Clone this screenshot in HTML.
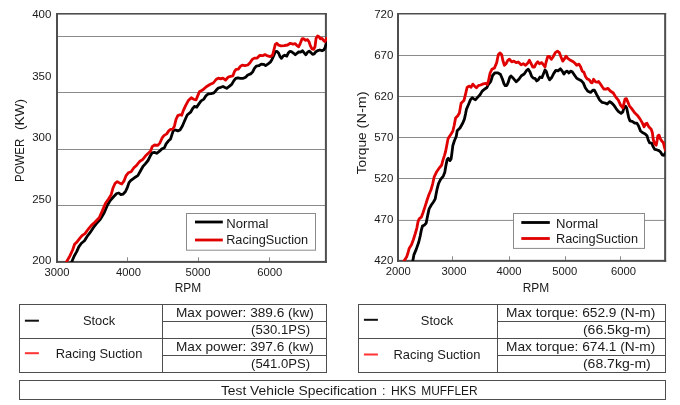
<!DOCTYPE html><html><head><meta charset="utf-8"><title>chart</title><style>html,body{margin:0;padding:0;background:#fff}svg{display:block;will-change:transform}text{font-family:"Liberation Sans",sans-serif;fill:#1a1a1a}</style></head><body>
<svg width="680" height="405" viewBox="0 0 680 405">
<rect width="680" height="405" fill="#fff"/>
<defs><clipPath id="cl"><rect x="56" y="13" width="271" height="249"/></clipPath><clipPath id="cr"><rect x="397" y="13" width="268.3" height="248"/></clipPath></defs>
<rect x="57" y="36" width="268.9" height="1" fill="#8a8a8a"/>
<rect x="57" y="92" width="268.9" height="1" fill="#8a8a8a"/>
<rect x="57" y="149" width="268.9" height="1" fill="#8a8a8a"/>
<rect x="57" y="205" width="268.9" height="1" fill="#8a8a8a"/>
<rect x="127" y="257.3" width="1" height="3.6" fill="#8a8a8a"/>
<rect x="198" y="257.3" width="1" height="3.6" fill="#8a8a8a"/>
<rect x="269" y="257.3" width="1" height="3.6" fill="#8a8a8a"/>
<rect x="56" y="13" width="2" height="249.9" fill="#4e4e4e"/>
<rect x="324.9" y="13" width="2" height="249.9" fill="#4e4e4e"/>
<rect x="56" y="13" width="270.9" height="1.6" fill="#4e4e4e"/>
<rect x="56" y="260.9" width="270.9" height="2" fill="#4e4e4e"/>
<g clip-path="url(#cl)" fill="none" stroke-linejoin="round" stroke-linecap="butt" stroke-width="2.8"><polyline points="70.9,263.8 72,261.2 74.1,256.2 76.7,251.6 78.8,246.9 81.4,243.3 84.5,240.7 87.1,236.5 90.2,232.4 93.3,227.7 96,224.1 100.5,219 104.2,212.7 107.4,205.2 110.2,200.5 113.8,196.5 116.7,193.5 118.8,193 120.9,194.6 123,194.2 125.5,191.5 127.4,187.3 129,182.6 130.9,180.3 134.4,177.8 137.8,175.6 140,171.7 142.8,166.7 145.3,163.8 148,160.5 150.2,156.1 152.2,152.8 154.4,152.4 156.7,153.3 158.9,151.7 161.7,149.1 164.4,147.8 166.1,143.9 168.3,141.1 170.6,138.9 172.2,133.9 173.3,130.6 175.6,130 177.8,130.9 180,130 182.4,126 184.3,121.5 187.2,115 190.6,112.2 192.8,108.3 194.4,106.4 196.7,107.2 198.9,103.9 201.1,100.9 203.9,99.1 206.1,95.6 208.3,93.9 211.1,93.6 213.9,92.8 216.1,90.3 218.3,88 220.8,87.3 223,86.5 225,87.5 226.7,88.3 228.9,86.7 231.7,84.4 233.9,80.6 235.8,78.3 237.8,77.8 240.6,78.3 243.3,78.3 245.6,77.2 247.8,75 250.6,73.9 252.8,71.7 254.4,68.3 256.3,66.1 258.8,65.7 261.3,64.1 263.5,64.3 265.6,65.6 268.1,63.9 270.3,62.2 272,59.4 273.7,55.6 275.3,51.7 277,51.4 278.7,53.3 280.1,56.7 281.4,58.3 283.1,56.1 284.8,55.2 286.8,56.1 288.1,53.3 289.8,51.4 291.4,51.7 293.7,53.3 295.3,54.8 297,53.3 298.7,51.9 300.3,52.2 302.6,50.8 304.2,52.8 305.9,54.8 307.6,52.2 309.2,51.1 310.9,52.6 312.6,54.4 314.2,53.9 315.9,51.7 317.9,50.6 319.8,50 322,50.8 323.7,50 325,47.8 326.1,43.9 327.5,40" stroke="#000"/><polyline points="65.8,263.2 66.9,261.2 70,255.7 72.6,250 74.6,244.3 77.2,241.7 80.3,237.6 82.4,235.3 85,233.6 88.1,229.3 91.2,225.6 94.8,222.2 99.2,217.8 102.3,210.9 105.5,203.3 108.5,199 111,195.1 112.9,188.3 115,183.5 117.2,181.6 119.4,182.9 121.8,184 123.9,181.2 126.1,175.6 128.3,172.8 131.1,171.7 133.9,167.8 136.7,165.2 139.6,161.5 142.8,159.3 145.6,155.8 148.3,153.3 150.6,151.1 152.2,146.7 154.4,145 157.8,145.3 160,142.8 162.2,137.8 163.9,135.6 166.7,133.9 168.9,130.6 170.6,129.4 172.8,129.1 174.4,126.2 176,119.5 177.8,115.6 180,114.7 181.7,115.3 183.3,110.6 185.6,105.6 188.3,100.6 191.3,97.8 193.9,99.4 196.1,99.8 197.8,95.6 199.4,91.7 202.5,90.1 206.3,86.7 210.3,84.3 213.3,83 216.1,79.5 218.3,78.1 220.6,78.9 222.8,78.1 225.6,80 228.3,77 230.6,76.3 232.8,75.9 234.4,71.7 236.1,69.4 238.3,69.2 240.6,66.1 242.2,65.2 245,65.6 247.8,65 250,62.8 252.2,59.4 254.4,58.1 257.2,58 259.9,55.3 262.5,55.7 265,54.6 267.6,55.9 270.3,56.7 272.6,55 274.2,48.9 275.3,44.4 276.8,43.3 278.7,45.2 280.9,45.9 284.2,45.6 287.6,45 290.3,43.3 293.1,44.1 295.3,43.7 297,45.6 298.7,46.7 300.3,43.3 302,38.9 303.4,38.6 305.3,40.3 307.6,39.7 309,41.7 310.3,45.6 312,48.9 313.7,49.4 315,46.7 316.1,38.3 317.6,35.9 319,36.7 320.3,38.9 322,38.3 323.7,40.6 325,41.7 326.4,38.9 327.5,37.5" stroke="#e00000"/></g>
<rect x="186.5" y="213.5" width="129" height="36.7" fill="#fff" stroke="#8a8a8a" stroke-width="1"/>
<rect x="195" y="220.6" width="27.8" height="2.8" fill="#000"/>
<rect x="195" y="238.6" width="27.8" height="2.8" fill="#e00000"/>
<text x="226.3" y="228" font-size="12.3" textLength="42.2" lengthAdjust="spacingAndGlyphs">Normal</text>
<text x="226.2" y="244.1" font-size="12.3" textLength="82" lengthAdjust="spacingAndGlyphs">RacingSuction</text>
<text x="51.4" y="18.1" font-size="11.2" text-anchor="end" textLength="19.2" lengthAdjust="spacingAndGlyphs">400</text>
<text x="51.4" y="79.5" font-size="11.2" text-anchor="end" textLength="19.2" lengthAdjust="spacingAndGlyphs">350</text>
<text x="51.4" y="141.2" font-size="11.2" text-anchor="end" textLength="19.2" lengthAdjust="spacingAndGlyphs">300</text>
<text x="51.4" y="203" font-size="11.2" text-anchor="end" textLength="19.2" lengthAdjust="spacingAndGlyphs">250</text>
<text x="51.4" y="263.9" font-size="11.2" text-anchor="end" textLength="19.2" lengthAdjust="spacingAndGlyphs">200</text>
<text x="56.9" y="276.1" font-size="11.2" text-anchor="middle" textLength="25" lengthAdjust="spacingAndGlyphs">3000</text>
<text x="128.6" y="276.1" font-size="11.2" text-anchor="middle" textLength="25" lengthAdjust="spacingAndGlyphs">4000</text>
<text x="197.9" y="276.1" font-size="11.2" text-anchor="middle" textLength="25" lengthAdjust="spacingAndGlyphs">5000</text>
<text x="269.8" y="276.1" font-size="11.2" text-anchor="middle" textLength="25" lengthAdjust="spacingAndGlyphs">6000</text>
<text x="188" y="292" font-size="12.5" text-anchor="middle" textLength="26.5" lengthAdjust="spacingAndGlyphs">RPM</text>
<g transform="translate(24.3,0) rotate(-90)">
<text x="-181.9" y="0" font-size="12.9" textLength="43" lengthAdjust="spacingAndGlyphs">POWER</text>
<text x="-130" y="0" font-size="12.9" textLength="31" lengthAdjust="spacingAndGlyphs">(KW)</text>
</g>
<rect x="398" y="55" width="267.15" height="1" fill="#8a8a8a"/>
<rect x="398" y="96" width="267.15" height="1" fill="#8a8a8a"/>
<rect x="398" y="137" width="267.15" height="1" fill="#8a8a8a"/>
<rect x="398" y="178" width="267.15" height="1" fill="#8a8a8a"/>
<rect x="398" y="219.9" width="267.15" height="1" fill="#8a8a8a"/>
<rect x="452" y="256.25" width="1" height="3.6" fill="#8a8a8a"/>
<rect x="509" y="256.25" width="1" height="3.6" fill="#8a8a8a"/>
<rect x="565" y="256.25" width="1" height="3.6" fill="#8a8a8a"/>
<rect x="620" y="256.25" width="1" height="3.6" fill="#8a8a8a"/>
<rect x="397" y="13" width="2" height="248.85" fill="#4e4e4e"/>
<rect x="664.15" y="13" width="2" height="248.85" fill="#4e4e4e"/>
<rect x="397" y="13" width="269.15" height="1.5" fill="#4e4e4e"/>
<rect x="397" y="259.85" width="269.15" height="2" fill="#4e4e4e"/>
<g clip-path="url(#cr)" fill="none" stroke-linejoin="round" stroke-linecap="butt" stroke-width="2.8"><polyline points="412.5,262.5 412.9,260.2 413.9,254.9 416.3,249.1 418.7,242.3 420.2,236 421.4,229.8 422.5,226 424.6,224.9 426.2,223 427.1,218.3 428,213.9 429.1,208.9 431.3,205 433.6,201.7 435.2,198.9 436,194.6 437,189.4 438.6,183.3 440.6,179.4 443.3,176.1 444.8,172.2 445.9,165.6 447.2,159.4 448.3,158.3 450,160.6 451.1,158.9 451.8,154 452.8,145.8 454.4,140.8 456.3,136.3 457.2,130.8 460,128 462.8,123 464.4,119.1 465.6,113.6 466.4,109.4 468.3,105 470.6,99.4 472.2,97.8 473.9,98.9 475.6,99.7 477.8,97.2 480,94.8 482.2,91.1 484.4,89.2 486.7,87.8 488.3,84.6 490.8,81.3 492.6,75.5 495,72.8 498,72.8 500.5,74.5 502.4,79 504,83.8 505.2,85.6 506.8,85.5 508.3,82.1 509.7,77.3 510.9,75.9 513.3,78.3 516.3,81.8 518.6,79.6 521.4,75.7 524.2,74 526.7,70.3 528.3,69.2 530,72 531.7,76.4 533.3,78.1 535,78.4 536.7,80.9 538.3,79.8 540,77 541.9,77.6 543.3,74.2 545,70 546.3,71.4 547.8,76.4 549.6,79.9 551.5,77.8 553.8,73.4 555.8,70.4 558,70.8 560.4,68.8 562.2,71.1 563.9,74.1 565.6,71.7 567.2,71.1 568.9,73 570.6,71.1 572.2,71.7 574.4,75 576.7,78.3 578.9,79.4 581,80.5 583.3,82.9 585.3,87.8 587.8,91.3 590.6,92.4 592.8,90.2 594.4,90.2 596.7,94.7 599.4,99.7 602.2,102.4 605,103 607.2,104.1 609.8,101.6 611.7,103 613.9,105.2 616.1,108.6 618.3,111.3 621.1,113.3 622.8,111.9 623.9,108 625.6,106.3 626.7,108 627.6,112.4 628.6,117.3 629.9,120.8 632.2,121.4 634.6,123 636.9,123.1 638.7,126.2 640.5,131 642.9,132.8 645.2,133.9 647,135.7 648.2,139.9 649.6,142.8 651.8,143.1 653,146.4 654.7,149.4 656.5,149.7 658.9,150.6 660.7,152.3 662.2,154.9 663.9,155.3 665.4,152.9 666.5,151" stroke="#000"/><polyline points="403,262.7 404.3,260.6 406.7,256.8 408.1,252.5 409.1,248.6 411.5,244.7 413.4,239.5 415.3,233.5 416.9,227.8 418,221.7 419.1,218.9 421.3,217.2 423,212.8 425.2,206.1 427.1,200 428.7,195.3 431,189.8 432.8,183.3 434.1,177.2 436.7,171.7 439.4,167.8 441.7,165 442.8,160.6 444.4,155.6 445.6,151.5 446.7,145.8 448.1,138.6 450.6,134.7 452.8,131.3 454.1,125.8 455.6,118 457.8,115.8 459.4,113 460.1,109 461.1,103.3 463.9,100.6 465.6,93.9 467.2,87.2 469.4,86.1 471.1,87.2 472.8,84.1 474.4,85.9 476.4,87.8 478.3,85.6 480.6,85 483.3,83.9 485.6,83.3 487.2,84.4 488.5,80.8 490.1,73 491.9,69.3 494.5,67.9 496.7,62.6 498.3,54.8 500,52.9 501.7,54.8 502.8,60.3 504.4,65.3 506.1,63.7 507.8,60.3 509.4,59.2 511.7,61.8 513.9,61.1 516.1,62.6 518.3,62 521.1,64.8 523.3,63.7 525.6,65.3 527.8,63.1 529.4,60.3 531.1,63.7 532.8,67 534.4,67 536.1,63.7 537.8,61.8 539.4,63.7 541.7,62.6 543.9,65.3 545,67 546.1,62 547.8,56.4 549.4,56.4 551.3,59.3 553,57 555.3,52.7 557.5,51.2 559.3,52.6 561,57 562.8,61.1 564.4,58.9 566.1,56.1 567.8,58.3 570,60 572.8,61.4 575,63.3 576.7,65.2 578.9,64.1 580.6,66.7 582.2,71.1 583.9,72.2 585.6,76.7 587.2,78.9 589.2,79.7 591.1,82.6 592.2,82.8 593.6,79.3 595.6,81.8 597.2,82.2 598.6,81.5 600.6,84.3 602.2,86.7 604,89.2 606.1,89.1 608,88.3 610.3,91 613.3,93 615.6,96.9 618.3,100.2 620.6,105.2 622.8,108 623.9,103.6 625,99.1 626.4,98.6 627.8,101.9 629.4,105.8 631.7,108.6 634.4,112.4 637,114.9 639.8,118.6 642.3,122.9 644.1,126.8 645.6,123.9 647,123.3 648.8,126.8 651.2,129.2 652.4,132.8 653.2,139.3 654.7,144 656.2,145.2 657.1,140.5 657.9,135.7 659.1,135.1 660.3,138.7 661.9,141.1 663.4,142.8 664.6,147.6 665.6,151" stroke="#e00000"/></g>
<rect x="513.5" y="213.5" width="131" height="34.9" fill="#fff" stroke="#8a8a8a" stroke-width="1"/>
<rect x="521.3" y="221.1" width="28.5" height="2.8" fill="#000"/>
<rect x="521.3" y="237.1" width="28.5" height="2.8" fill="#e00000"/>
<text x="556.1" y="227.6" font-size="12.3" textLength="42.2" lengthAdjust="spacingAndGlyphs">Normal</text>
<text x="556" y="242.8" font-size="12.3" textLength="82" lengthAdjust="spacingAndGlyphs">RacingSuction</text>
<text x="393.4" y="17.8" font-size="11.2" text-anchor="end" textLength="19.2" lengthAdjust="spacingAndGlyphs">720</text>
<text x="393.4" y="58.8" font-size="11.2" text-anchor="end" textLength="19.2" lengthAdjust="spacingAndGlyphs">670</text>
<text x="393.4" y="99.9" font-size="11.2" text-anchor="end" textLength="19.2" lengthAdjust="spacingAndGlyphs">620</text>
<text x="393.4" y="140.9" font-size="11.2" text-anchor="end" textLength="19.2" lengthAdjust="spacingAndGlyphs">570</text>
<text x="393.4" y="182.2" font-size="11.2" text-anchor="end" textLength="19.2" lengthAdjust="spacingAndGlyphs">520</text>
<text x="393.4" y="223.2" font-size="11.2" text-anchor="end" textLength="19.2" lengthAdjust="spacingAndGlyphs">470</text>
<text x="393.4" y="263.7" font-size="11.2" text-anchor="end" textLength="19.2" lengthAdjust="spacingAndGlyphs">420</text>
<text x="398.3" y="275" font-size="11.2" text-anchor="middle" textLength="25" lengthAdjust="spacingAndGlyphs">2000</text>
<text x="453.9" y="275" font-size="11.2" text-anchor="middle" textLength="25" lengthAdjust="spacingAndGlyphs">3000</text>
<text x="509.05" y="275" font-size="11.2" text-anchor="middle" textLength="25" lengthAdjust="spacingAndGlyphs">4000</text>
<text x="564.85" y="275" font-size="11.2" text-anchor="middle" textLength="25" lengthAdjust="spacingAndGlyphs">5000</text>
<text x="623.4" y="275" font-size="11.2" text-anchor="middle" textLength="25" lengthAdjust="spacingAndGlyphs">6000</text>
<text x="536" y="292" font-size="12.5" text-anchor="middle" textLength="26.5" lengthAdjust="spacingAndGlyphs">RPM</text>
<g transform="translate(365.8,0) rotate(-90)">
<text x="-174.3" y="0" font-size="12.2" textLength="42" lengthAdjust="spacingAndGlyphs">Torque</text>
<text x="-128.4" y="0" font-size="12.2" textLength="37" lengthAdjust="spacingAndGlyphs">(N-m)</text>
</g>
<rect x="19.5" y="304.5" width="307.0" height="68" fill="none" stroke="#4e4e4e" stroke-width="1"/>
<rect x="162" y="304.5" width="1" height="68" fill="#4e4e4e"/>
<rect x="19.5" y="338" width="307" height="1" fill="#4e4e4e"/>
<rect x="162.5" y="321" width="164" height="1" fill="#4e4e4e"/>
<rect x="162.5" y="355" width="164" height="1" fill="#4e4e4e"/>
<rect x="24.9" y="319.7" width="14" height="2" fill="#111"/>
<rect x="24.9" y="352.2" width="14" height="2" fill="#f33"/>
<text x="99.05" y="324.7" font-size="12.6" text-anchor="middle" textLength="32.3" lengthAdjust="spacingAndGlyphs">Stock</text>
<text x="99.05" y="357.8" font-size="12.6" text-anchor="middle" textLength="86.8" lengthAdjust="spacingAndGlyphs">Racing Suction</text>
<rect x="358.5" y="304.5" width="307.0" height="68" fill="none" stroke="#4e4e4e" stroke-width="1"/>
<rect x="497" y="304.5" width="1" height="68" fill="#4e4e4e"/>
<rect x="358.5" y="338" width="307" height="1" fill="#4e4e4e"/>
<rect x="497.5" y="321" width="168" height="1" fill="#4e4e4e"/>
<rect x="497.5" y="355" width="168" height="1" fill="#4e4e4e"/>
<rect x="363.9" y="318.8" width="14" height="2" fill="#111"/>
<rect x="363.9" y="353.5" width="14" height="2" fill="#f33"/>
<text x="436.95" y="324.7" font-size="12.6" text-anchor="middle" textLength="32.3" lengthAdjust="spacingAndGlyphs">Stock</text>
<text x="436.95" y="358.9" font-size="12.6" text-anchor="middle" textLength="86.8" lengthAdjust="spacingAndGlyphs">Racing Suction</text>
<text x="176" y="316.75" font-size="12.4" textLength="137.8" lengthAdjust="spacingAndGlyphs">Max power: 389.6 (kw)</text>
<text x="176" y="350.75" font-size="12.4" textLength="137.8" lengthAdjust="spacingAndGlyphs">Max power: 397.6 (kw)</text>
<text x="251.1" y="333.75" font-size="12.4" textLength="58.9" lengthAdjust="spacingAndGlyphs">(530.1PS)</text>
<text x="251.1" y="367.75" font-size="12.4" textLength="58.9" lengthAdjust="spacingAndGlyphs">(541.0PS)</text>
<text x="506" y="316.75" font-size="12.4" textLength="149.3" lengthAdjust="spacingAndGlyphs">Max torque: 652.9 (N-m)</text>
<text x="506" y="350.75" font-size="12.4" textLength="149.3" lengthAdjust="spacingAndGlyphs">Max torque: 674.1 (N-m)</text>
<text x="582.9" y="333.75" font-size="12.4" textLength="67.9" lengthAdjust="spacingAndGlyphs">(66.5kg-m)</text>
<text x="582.9" y="367.75" font-size="12.4" textLength="67.9" lengthAdjust="spacingAndGlyphs">(68.7kg-m)</text>
<rect x="19.5" y="380.5" width="646" height="19" fill="none" stroke="#4e4e4e" stroke-width="1"/>
<text x="220.9" y="395" font-size="12.4" textLength="156" lengthAdjust="spacingAndGlyphs">Test Vehicle Specification</text>
<text x="383.7" y="395" font-size="12.4" text-anchor="middle">:</text>
<text x="391" y="395" font-size="12.4" textLength="25" lengthAdjust="spacingAndGlyphs">HKS</text>
<text x="421.3" y="395" font-size="12.4" textLength="56.3" lengthAdjust="spacingAndGlyphs">MUFFLER</text>
</svg></body></html>
